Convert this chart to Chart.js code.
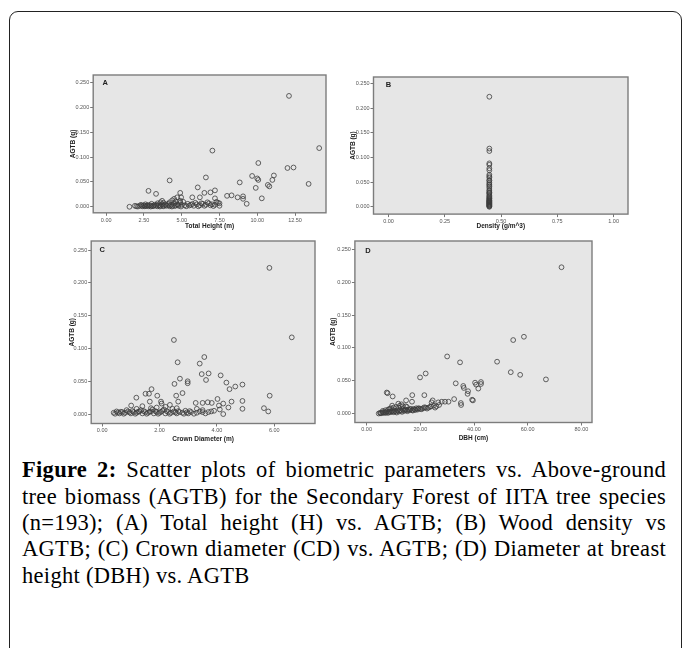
<!DOCTYPE html>
<html><head><meta charset="utf-8">
<script src="https://cdn.jsdelivr.net/npm/chart.js@4"></script>
<style>
html,body{margin:0;padding:0;background:#fff;width:683px;height:648px;overflow:hidden;}
#frame{position:absolute;left:9px;top:11px;width:673px;height:720px;box-sizing:border-box;border:1.6px solid #222;border-radius:9px;}
canvas{position:absolute;}
.cap{position:absolute;left:22px;width:644px;font-family:"Liberation Serif","Times New Roman",serif;font-size:22.5px;line-height:26px;color:#000;letter-spacing:0.3px;}
.j{text-align:justify;text-align-last:justify;}
.cap b{font-weight:bold;}
</style></head>
<body>
<div id="frame"></div>
<div class="cap j" style="top:457px"><b>Figure 2:</b> Scatter plots of biometric parameters vs. Above-ground</div>
<div class="cap j" style="top:484px">tree biomass (AGTB) for the Secondary Forest of IITA tree species</div>
<div class="cap j" style="top:510px">(n=193); (A) Total height (H) vs. AGTB; (B) Wood density vs</div>
<div class="cap j" style="top:536px">AGTB; (C) Crown diameter (CD) vs. AGTB; (D) Diameter at breast</div>
<div class="cap" style="top:563px">height (DBH) vs. AGTB</div>
<script>
// ---------- DATA ----------
// Panel A: Total height (m) vs AGTB (g)
const heightX = [12.1,14.1,7.03,10.07,12.0,12.4,11.1,9.66,10.07,10.0,11.0,10.7,10.8,9.9,8.84,13.4,6.6,4.2,6.06,7.2,6.9,4.9,6.5,2.8,3.3,10.3,9.06,9.06,8.7,8.0,8.3,9.3,7.5,7.2,7.3,6.2,5.7,4.96,4.7,4.37,3.7,1.54,4.5,4.9,5.1,5.9,6.3,6.7,
 2.0,2.2,2.4,2.5,2.6,2.7,2.8,2.9,3.0,3.1,3.2,3.3,3.4,3.5,3.6,3.7,3.8,3.9,4.0,4.1,4.2,4.3,4.4,4.5,4.6,4.7,4.8,4.9,5.0,5.2,5.4,5.6,5.8,6.0,6.2,6.4,6.6,6.8,7.0,7.2,7.4,3.0,3.4,3.8,2.3,1.9,2.6,4.2,4.6,3.6,
 2.1,2.35,2.55,2.75,2.95,3.15,3.35,3.55,3.75,3.95,4.15,4.35,4.55,4.75,4.95,5.3,5.5,5.7,6.1,6.5,6.9,7.1,7.5];
const heightY = [0.223,0.118,0.113,0.088,0.078,0.079,0.063,0.062,0.054,0.057,0.054,0.044,0.041,0.038,0.049,0.046,0.059,0.053,0.039,0.033,0.029,0.028,0.028,0.032,0.026,0.017,0.021,0.016,0.019,0.022,0.023,0.006,0.007,0.017,0.010,0.019,0.019,0.019,0.019,0.013,0.012,0.000,0.016,0.012,0.010,0.008,0.007,0.009,
 0.001,0.002,0.001,0.003,0.0015,0.002,0.001,0.003,0.002,0.001,0.004,0.002,0.001,0.003,0.002,0.005,0.001,0.003,0.002,0.006,0.001,0.004,0.002,0.007,0.003,0.005,0.002,0.008,0.004,0.003,0.006,0.004,0.002,0.005,0.003,0.006,0.004,0.007,0.005,0.004,0.008,0.006,0.007,0.008,0.004,0.002,0.005,0.009,0.011,0.009,
 0.0005,0.002,0.001,0.0035,0.0005,0.0025,0.004,0.0005,0.002,0.0045,0.003,0.0005,0.0015,0.0035,0.0005,0.001,0.0025,0.0055,0.001,0.002,0.003,0.0015,0.002];
const heightTicks = [0,2.5,5,7.5,10,12.5];

// Panel B: Wood density vs AGTB (single density value for all trees)
const densityValue = 0.448;
const densityY = [0.223,0.118,0.113,0.088,0.085,0.078,0.074,0.065,0.062,0.059,0.054,0.053,0.049,0.046,0.044,0.041,0.038,0.034,0.032,0.029,0.028,0.026,0.023,0.021,0.019,0.017,0.016,0.014,0.013,0.012,0.011,0.010,0.009,0.008,0.007,0.006,0.005,0.004,0.003,0.002,0.001,0.000];
const densityTicks = [0,0.25,0.5,0.75,1.0];

// Panel C: Crown diameter (m) vs AGTB (g)
const crownX = [5.83,6.61,2.5,3.56,2.63,3.40,3.47,3.71,4.13,2.71,3.62,2.98,2.98,4.33,2.52,4.64,4.44,4.89,2.80,2.58,5.84,1.72,1.51,1.63,1.92,1.19,4.02,2.05,2.07,1.66,2.65,3.26,3.50,3.68,3.82,4.51,4.89,4.22,4.07,4.89,5.64,5.79,4.40,4.22,3.8,3.5,3.3,2.36,2.21,1.01,1.4,1.7,
 0.4,0.5,0.6,0.7,0.8,0.9,1.0,1.1,1.2,1.3,1.4,1.5,1.6,1.7,1.8,1.9,2.0,2.1,2.2,2.3,2.4,2.5,2.6,2.7,2.8,2.9,3.0,3.1,3.3,3.5,3.7,3.9,4.1,1.35,1.75,2.45,2.15,0.85,
 0.45,0.55,0.65,0.75,0.95,1.05,1.15,1.25,1.45,1.55,1.65,1.85,1.95,2.05,2.25,2.35,2.55,2.65,2.85,2.95,3.05,3.2,3.4,3.6,1.2,1.9,2.6];
const crownY = [0.223,0.117,0.113,0.087,0.079,0.077,0.061,0.062,0.059,0.054,0.052,0.050,0.047,0.048,0.046,0.042,0.038,0.045,0.032,0.028,0.028,0.038,0.031,0.031,0.028,0.025,0.023,0.019,0.016,0.019,0.019,0.017,0.017,0.018,0.017,0.019,0.020,0.016,0.013,0.008,0.009,0.004,0.010,0.000,0.004,0.003,0.008,0.014,0.011,0.013,0.012,0.009,
 0.002,0.004,0.001,0.003,0.002,0.004,0.001,0.003,0.002,0.004,0.001,0.003,0.002,0.004,0.001,0.003,0.002,0.005,0.001,0.003,0.002,0.004,0.001,0.003,0.002,0.005,0.001,0.003,0.002,0.006,0.003,0.005,0.007,0.006,0.007,0.008,0.007,0.006,
 0.0005,0.0025,0.0035,0.0005,0.0025,0.0045,0.0005,0.0035,0.0045,0.0005,0.0035,0.0045,0.0005,0.0035,0.0045,0.0005,0.0025,0.0045,0.0005,0.0025,0.0045,0.0005,0.004,0.001,0.008,0.010,0.009];
const crownTicks = [0,2,4,6];

// Panel D: DBH (cm) vs AGTB (g)
const dbhX = [72.6,58.6,54.6,53.7,57.2,66.8,30.0,48.6,34.8,22.0,19.9,33.2,36.0,36.2,40.4,40.8,42.6,42.6,41.6,37.8,37.6,39.3,39.6,32.6,35.1,35.2,30.5,29.2,28.0,26.7,24.6,24.2,25.5,21.5,17.0,14.7,16.9,14.6,7.5,7.8,9.7,13.0,12.4,11.8,
 4.5,5,5.5,6,6.5,7,7.5,8,8.5,9,9.5,10,10.5,11,11.5,12,12.5,13,13.5,14,14.5,15,15.5,16,16.5,17,17.5,18,18.5,19,19.5,20,21,22,23,23.6,8,9,10,11,9.5,7,6,
 5.2,6.2,7.2,8.2,9.2,10.2,11.2,12.2,13.2,14.2,15.2,16.2,17.2,18.2,19.2,20.5,21.5,22.5,24,25,26,27,8.5,12,13.5,15];
const dbhY = [0.223,0.117,0.112,0.063,0.059,0.052,0.087,0.079,0.078,0.061,0.055,0.046,0.042,0.039,0.047,0.044,0.048,0.045,0.038,0.034,0.030,0.021,0.020,0.022,0.016,0.013,0.018,0.018,0.018,0.017,0.020,0.017,0.009,0.028,0.028,0.020,0.018,0.011,0.032,0.031,0.026,0.014,0.012,0.015,
 0.000,0.001,0.0005,0.002,0.001,0.002,0.003,0.001,0.003,0.002,0.004,0.002,0.004,0.003,0.005,0.003,0.005,0.004,0.006,0.004,0.006,0.005,0.006,0.005,0.007,0.005,0.007,0.006,0.008,0.006,0.008,0.007,0.008,0.009,0.009,0.010,0.006,0.008,0.009,0.010,0.012,0.005,0.004,
 0.0005,0.0015,0.001,0.002,0.0035,0.003,0.0015,0.0045,0.0025,0.0055,0.0035,0.0065,0.0045,0.0055,0.0075,0.0065,0.0095,0.0075,0.011,0.012,0.011,0.013,0.007,0.009,0.011,0.010];
const dbhTicks = [0,20,40,60,80];

const agtbTicks = [0,0.05,0.1,0.15,0.2,0.25];

// ---------- DRAWING ----------
const frame = {
  id:'panelFrame',
  beforeDraw(chart){
    const a = chart.chartArea, c = chart.ctx;
    c.save(); c.fillStyle = '#e6e6e6';
    c.fillRect(a.left, a.top, a.right-a.left, a.bottom-a.top); c.restore();
  },
  afterDraw(chart){
    const a = chart.chartArea, c = chart.ctx;
    c.save(); c.strokeStyle = '#7c7c7c'; c.lineWidth = 1.4;
    c.strokeRect(a.left, a.top, a.right-a.left, a.bottom-a.top);
    c.fillStyle = '#222'; c.font = 'bold 7.5px "Liberation Sans", Arial, sans-serif';
    c.textBaseline = 'middle'; c.textAlign = 'center';
    const p = chart.options.plugins.panelFrame;
    c.fillText(p.letter, a.left + p.lx, a.top + p.ly);
    c.restore();
  }
};

function panel(o){
  const TL = 4.2; // half title line height
  const left = o.titleX - TL;
  const bottom = o.xTitleY + TL;
  const right = o.plot[2] + 6;
  const top = o.plot[1] - 5;
  const W = right - left, H = bottom - top;
  const cv = document.createElement('canvas');
  cv.width = Math.round(W); cv.height = Math.round(H);
  cv.style.left = left + 'px'; cv.style.top = top + 'px';
  cv.style.width = Math.round(W) + 'px'; cv.style.height = Math.round(H) + 'px';
  document.body.appendChild(cv);
  const yw = o.plot[0] - left;
  const xh = bottom - o.plot[3];
  const pts = o.xs.map((x,i)=>({x:x, y:o.ys[i]}));
  const tickFont = {family:'"Liberation Sans", Arial, sans-serif', size:5.5};
  const titleFont = {family:'"Liberation Sans", Arial, sans-serif', size:6.5, weight:'bold', lineHeight:1.3};
  new Chart(cv, {
    type:'scatter',
    data:{datasets:[{data:pts, pointRadius:2.4, pointHoverRadius:2.4, pointBorderWidth:0.8,
      pointBorderColor:'#3c3c3c', pointBackgroundColor:'rgba(0,0,0,0)'}]},
    options:{
      responsive:false, animation:false, events:[],
      layout:{padding:{left:0, top:o.plot[1]-top, right:right-o.plot[2], bottom:0}},
      plugins:{legend:{display:false}, tooltip:{enabled:false},
        panelFrame:{letter:o.letter, lx:o.lx, ly:o.ly}},
      scales:{
        x:{type:'linear', min:o.xr[0], max:o.xr[1],
          afterBuildTicks:a=>{a.ticks = o.xTicks.map(v=>({value:v}));},
          afterFit:a=>{a.height = xh;},
          ticks:{callback:v=>v.toFixed(2), font:tickFont, color:'#555', maxRotation:0, autoSkip:false, padding:1},
          grid:{drawOnChartArea:false, tickLength:3, color:'#777'},
          border:{display:false},
          title:{display:true, text:o.xTitle, font:titleFont, color:'#222', padding:0}},
        y:{type:'linear', min:o.yr[0], max:o.yr[1],
          afterBuildTicks:a=>{a.ticks = agtbTicks.map(v=>({value:v}));},
          afterFit:a=>{a.width = yw;},
          ticks:{callback:v=>v.toFixed(3), font:tickFont, color:'#555', padding:1},
          grid:{drawOnChartArea:false, tickLength:3, color:'#777'},
          border:{display:false},
          title:{display:true, text:'AGTB (g)', font:titleFont, color:'#222', padding:0}}
      }
    },
    plugins:[frame]
  });
}

panel({letter:'A', lx:12, ly:7.5, plot:[93,75.3,326,212.7], titleX:73, xTitleY:225.7,
  xs:heightX, ys:heightY, xTicks:heightTicks, xr:[-0.86,14.55], yr:[-0.0121,0.265], xTitle:'Total Height (m)'});
panel({letter:'B', lx:15, ly:7.5, plot:[373.3,76.7,628,214], titleX:353, xTitleY:225.7,
  xs:densityY.map(()=>densityValue), ys:densityY, xTicks:densityTicks, xr:[-0.0666,1.064], yr:[-0.0148,0.263], xTitle:'Density (g/m^3)'});
panel({letter:'C', lx:11, ly:8.5, plot:[90.7,240.7,314.3,422.7], titleX:71.7, xTitle:'Crown Diameter (m)', xTitleY:438,
  xs:crownX, ys:crownY, xTicks:crownTicks, xr:[-0.384,7.42], yr:[-0.0144,0.264]});
panel({letter:'D', lx:13, ly:9.5, plot:[355,241,591.7,422.7], titleX:333.3, xTitle:'DBH (cm)', xTitleY:438,
  xs:dbhX, ys:dbhY, xTicks:dbhTicks, xr:[-4.37,83.96], yr:[-0.0137,0.263]});
</script>
</body></html>
